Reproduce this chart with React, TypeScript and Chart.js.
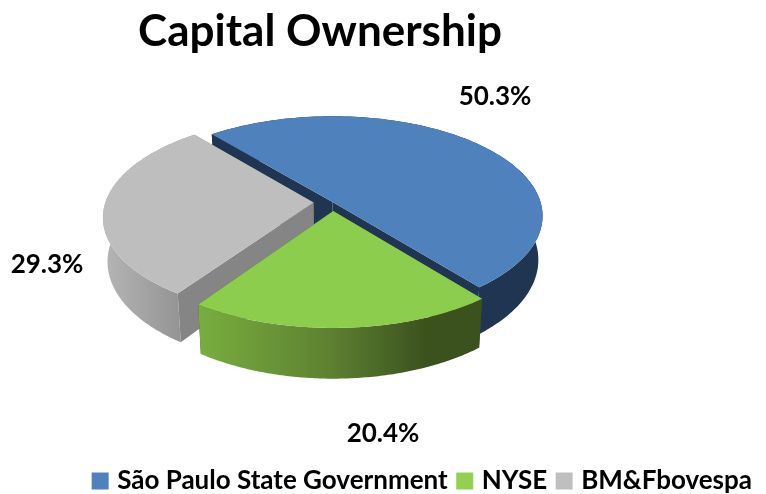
import React, { useEffect, useRef } from "react";
import { Chart, registerables } from "chart.js";

Chart.register(...registerables);

const categories = ["São Paulo State Government", "NYSE", "BM&Fbovespa"];
const shares = [50.3, 20.4, 29.3];
const shareLabels = ["50.3%", "20.4%", "29.3%"];
const topColors = ["#4F81BD", "#8DCD4E", "#BEBEBE"];
const legendColors = ["#4F81BD", "#92D050", "#BFBFBF"];
const explode = [0, 76, 76];
const labelPositions = [
  [495, 97],
  [383, 434],
  [47, 265],
];
const FONT = "Lato, 'Open Sans', sans-serif";

const CX = 332.5;
const CY = 202;
const TILT = 0.47;
const PERSP = 0.14;
const DEPTH = 43;
const TAPER = 0.02;

type Pt = [number, number];

function project(px: number, py: number, z: number, R: number): Pt {
  const s = 1 / (1 - (PERSP * py) / R);
  return [CX + px * s * (1 - z * TAPER), CY + TILT * py * s + z * DEPTH * s];
}

function wallGradient(ctx: CanvasRenderingContext2D, i: number): string | CanvasGradient {
  if (i === 0) return "#1F3552";
  if (i === 1) {
    const g = ctx.createLinearGradient(199, 0, 484, 0);
    g.addColorStop(0, "#79AD3E");
    g.addColorStop(0.45, "#5E8232");
    g.addColorStop(0.8, "#3B511E");
    g.addColorStop(1, "#3B511E");
    return g;
  }
  const g = ctx.createLinearGradient(101, 0, 185, 0);
  g.addColorStop(0, "#B6B6B6");
  g.addColorStop(1, "#929292");
  return g;
}

const edgeColors = ["#1F3552", "#3B511E", "#858585"];

const pie3d = {
  id: "pie3d",
  afterLayout(chart: any) {
    const t = chart.titleBlock;
    const shift = (t.left + t.right) / 2 - 320;
    t.left -= shift;
    t.right -= shift;
    chart.legend.top += 10;
    chart.legend.bottom += 10;
  },
  beforeDatasetDraw(chart: any) {
    const ctx: CanvasRenderingContext2D = chart.ctx;
    const arcs = chart.getDatasetMeta(0).data;
    [0, 2, 1].forEach((i) => {
      const a = arcs[i];
      const R = a.outerRadius;
      const off = (a.options.offset || 0) / 4;
      const mid = (a.startAngle + a.endAngle) / 2;
      const ox = Math.cos(mid) * off;
      const oy = Math.sin(mid) * off;
      const steps = 120;
      const rim: Array<[number, number]> = [];
      for (let k = 0; k <= steps; k++) {
        const t = a.startAngle + ((a.endAngle - a.startAngle) * k) / steps;
        rim.push([ox + R * Math.cos(t), oy + R * Math.sin(t)]);
      }
      const poly = (pts: Pt[], fill: any) => {
        ctx.beginPath();
        pts.forEach((p, n) => (n ? ctx.lineTo(p[0], p[1]) : ctx.moveTo(p[0], p[1])));
        ctx.closePath();
        ctx.fillStyle = fill;
        ctx.fill();
      };
      const first = rim[0];
      const last = rim[rim.length - 1];
      poly(
        [project(ox, oy, 0, R), project(first[0], first[1], 0, R), project(first[0], first[1], 1, R), project(ox, oy, 1, R)],
        edgeColors[i]
      );
      poly(
        [project(ox, oy, 0, R), project(last[0], last[1], 0, R), project(last[0], last[1], 1, R), project(ox, oy, 1, R)],
        edgeColors[i]
      );
      poly(
        [
          ...rim.map((p) => project(p[0], p[1], 0, R)),
          ...rim.slice().reverse().map((p) => project(p[0], p[1], 1, R)),
        ],
        wallGradient(ctx, i)
      );
      poly([project(ox, oy, 0, R), ...rim.map((p) => project(p[0], p[1], 0, R))], a.options.backgroundColor);
    });
    return false;
  },
  afterDatasetsDraw(chart: any) {
    const ctx: CanvasRenderingContext2D = chart.ctx;
    ctx.save();
    ctx.font = `bold 26px ${FONT}`;
    ctx.fillStyle = "#000";
    ctx.textAlign = "center";
    ctx.textBaseline = "middle";
    shareLabels.forEach((t, i) => ctx.fillText(t, labelPositions[i][0], labelPositions[i][1]));
    ctx.restore();
  },
};

export default function App() {
  const ref = useRef<HTMLCanvasElement>(null);
  useEffect(() => {
    const chart = new Chart(ref.current!, {
      type: "pie",
      data: {
        labels: categories,
        datasets: [
          {
            data: shares,
            backgroundColor: topColors,
            offset: explode,
            borderWidth: 0,
            radius: 208,
          } as any,
        ],
      },
      options: {
        responsive: false,
        animation: false,
        rotation: -40,
        layout: { padding: { left: 0, right: 1, top: 0, bottom: 0 } },
        plugins: {
          tooltip: { enabled: false },
          title: {
            display: true,
            text: "Capital Ownership",
            color: "#000",
            font: { family: FONT, size: 44, weight: "bold" },
            padding: { top: 5, bottom: 8 },
          },
          legend: {
            position: "bottom",
            align: "end",
            labels: {
              boxWidth: 8,
              boxHeight: 8,
              padding: 13,
              color: "#000",
              font: { family: FONT, size: 26, weight: "bold" },
              generateLabels: () =>
                categories.map((text, i) => ({
                  text,
                  fillStyle: legendColors[i],
                  strokeStyle: legendColors[i],
                  lineWidth: 9,
                  datasetIndex: 0,
                  index: i,
                })),
            },
          },
        },
      },
      plugins: [pie3d],
    } as any);
    return () => chart.destroy();
  }, []);
  return (
    <canvas
      ref={ref}
      width={766}
      height={494}
      style={{ position: "fixed", left: 0, top: 0, display: "block" }}
    />
  );
}
